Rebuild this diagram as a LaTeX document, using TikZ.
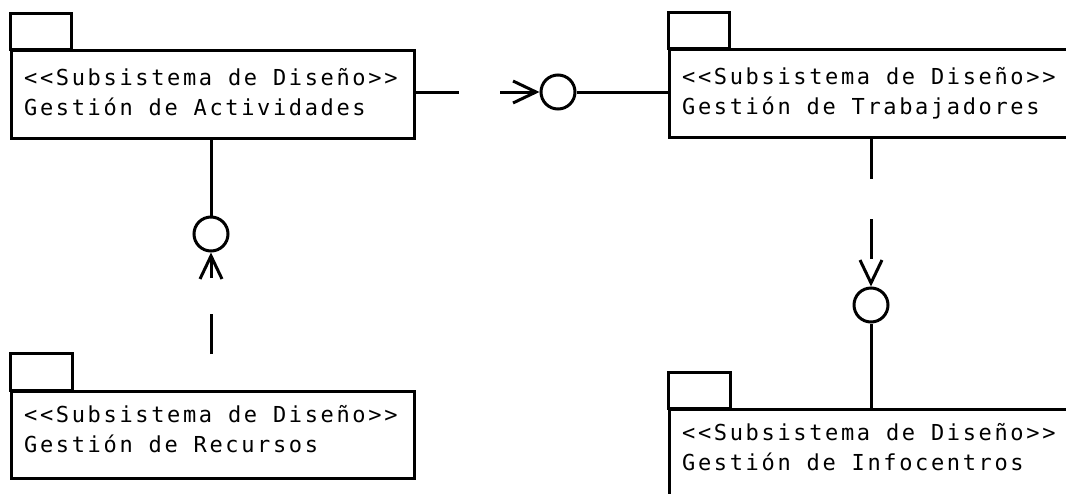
\documentclass[tikz,border=0pt]{standalone}
\usepackage{fontspec}
\usepackage{tikz}
\usetikzlibrary{arrows.meta, positioning}
\newfontfamily\umlfont[LetterSpace=12]{DejaVu Sans Mono}

\begin{document}
\begin{tikzpicture}[
  x=1pt, y=-1pt,
  pkg/.style={rectangle, draw, line width=3pt, minimum height=88pt, anchor=north west, inner sep=0pt},
  pkgtab/.style={draw, line width=3pt},
  pkgtext/.style={anchor=base west, inner sep=0pt, font=\umlfont\fontsize{22}{25}\selectfont},
  iface/.style={circle, draw, line width=3pt, minimum size=34pt, inner sep=0pt},
  lnk/.style={line width=3pt},
  dep/.style={line width=3pt, dash pattern=on 40pt off 40pt, -{Straight Barb[length=23pt, width=22pt]}},
]
\useasboundingbox[fill=white] (0,0) rectangle (1066,493);

\node[pkg, minimum width=403pt] (act) at (10,49) {};
\node[pkg, minimum width=405pt] (trab) at (668,48) {};
\node[pkg, minimum width=403pt, minimum height=87pt] (rec) at (10,390) {};
\node[pkg, minimum width=405pt] (info) at (668,408) {};

\draw[pkgtab] (act.north west) rectangle ++(61,-36);
\draw[pkgtab] (trab.north west) rectangle ++(61,-36);
\draw[pkgtab] (rec.north west) rectangle ++(62,-37);
\draw[pkgtab] (info.north west) rectangle ++(62,-36);

\node[pkgtext] (act-st) at ([shift={(14,36)}]act.north west) {<<Subsistema de Diseño>>};
\node[pkgtext] (act-nm) at ([shift={(14,66)}]act.north west) {Gestión de Actividades};
\node[pkgtext] (trab-st) at ([shift={(14,36)}]trab.north west) {<<Subsistema de Diseño>>};
\node[pkgtext] (trab-nm) at ([shift={(14,66)}]trab.north west) {Gestión de Trabajadores};
\node[pkgtext] (rec-st) at ([shift={(14,32)}]rec.north west) {<<Subsistema de Diseño>>};
\node[pkgtext] (rec-nm) at ([shift={(14,62)}]rec.north west) {Gestión de Recursos};
\node[pkgtext] (info-st) at ([shift={(14,32)}]info.north west) {<<Subsistema de Diseño>>};
\node[pkgtext] (info-nm) at ([shift={(14,62)}]info.north west) {Gestión de Infocentros};

\node[iface] (ifTrab) at (558,92) {};
\node[iface] (ifRec) at (211,234) {};
\node[iface] (ifInfo) at (871,305) {};

\draw[lnk] (ifTrab) -- (trab.west |- ifTrab);
\draw[lnk] (act.south -| ifRec) -- (ifRec);
\draw[lnk] (ifInfo) -- (info.north -| ifInfo);

\draw[dep, dash pattern=on 43pt off 41pt] (act.east |- ifTrab) -- (ifTrab);
\draw[dep, dash pattern=on 40pt off 36pt, dash phase=40pt] (rec.north -| ifRec) -- (ifRec);
\draw[dep] (trab.south -| ifInfo) -- (ifInfo);
\end{tikzpicture}
\end{document}
